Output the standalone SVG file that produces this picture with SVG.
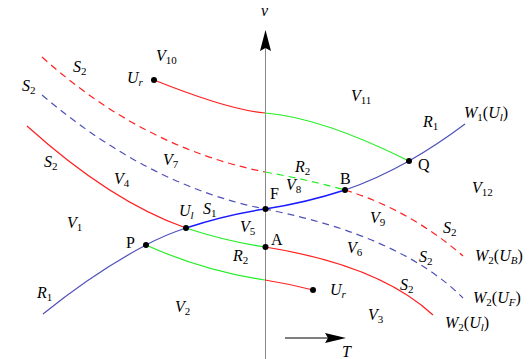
<svg xmlns="http://www.w3.org/2000/svg" width="531" height="359" viewBox="0 0 531 359">
<style>
text{font-family:"Liberation Serif","Times New Roman",serif;font-size:16px;fill:#000}
.i{font-style:italic}
.s{font-size:11px;font-style:normal}
.si{font-size:11px;font-style:italic}
.c{fill:none;stroke-width:1.2}
.r{stroke:#ff2020}
.g{stroke:#22ee22}
.b{stroke:#5050bb}
.bb{stroke:#1a1aff;stroke-width:1.6}
.d{stroke-dasharray:7,5}
.pt{fill:#000}
</style>
<rect width="531" height="359" fill="#fff"/>
<g id="axes">
<line x1="265.5" y1="359" x2="265.5" y2="45" stroke="#888" stroke-width="1"/>
<polygon points="265.5,30 271,51 265.5,48 260,51" fill="#000"/>
<text class="i" x="261" y="16" font-size="14">v</text>
<line x1="285" y1="338" x2="330" y2="338" stroke="#000" stroke-width="1.2"/>
<polygon points="346,338 325,333 328,338 325,343" fill="#000"/>
<text class="i" x="342" y="357">T</text>
</g>
<g id="connectors">
<path class="c r" d="M154,80 Q229,110 265,113"/>
<path class="c g" d="M265,113 Q322,117.6 409,161"/>
<path class="c b" d="M43,314 Q95,272 146,245 Q165.4,234.7 186,228"/>
<path class="c bb" d="M186,228 Q225,215 265,209 Q305,203 345,190"/>
<path class="c b" d="M345,190 Q375,180 409,161 Q437,145 465,124"/>
<path class="c r d" d="M42,57 Q142.6,147.5 265,172"/>
<path class="c g d" d="M265,172 Q305,179 345,190"/>
<path class="c r d" d="M345,190 Q410,210 463,256"/>
<path class="c b d" d="M42,95 Q148.8,185.8 265,209 Q401,236 463,298"/>
<path class="c r" d="M27,126 Q111,201.8 186,228"/>
<path class="c g" d="M186,228 Q225,241 265,247"/>
<path class="c r" d="M265,247 Q379,265 433,315"/>
<path class="c g" d="M146,245 Q203,270.8 265,280"/>
<path class="c r" d="M265,280 Q290,284 313,290"/>
</g>
<g id="points">
<g id="Ur-top"><circle class="pt" cx="154" cy="80" r="3"/><text class="i" x="127" y="83">U<tspan class="si" dy="3">r</tspan></text></g>
<g id="Q"><circle class="pt" cx="409" cy="161" r="3"/><text x="418" y="170">Q</text></g>
<g id="B"><circle class="pt" cx="345" cy="190" r="3"/><text x="340" y="184">B</text></g>
<g id="F"><circle class="pt" cx="265.5" cy="209" r="3"/><text x="270" y="199">F</text></g>
<g id="Ul"><circle class="pt" cx="186" cy="228" r="3"/><text class="i" x="179" y="216">U<tspan class="si" dy="3">l</tspan></text></g>
<g id="P"><circle class="pt" cx="146" cy="245" r="3"/><text x="126" y="248">P</text></g>
<g id="A"><circle class="pt" cx="265.5" cy="247" r="3"/><text x="271" y="245">A</text></g>
<g id="Ur-bottom"><circle class="pt" cx="313" cy="290" r="3"/><text class="i" x="330" y="295">U<tspan class="si" dy="3">r</tspan></text></g>
</g>
<g id="labels">
<text class="i" x="156" y="61">V<tspan class="s" dy="3">10</tspan></text>
<text class="i" x="351" y="101">V<tspan class="s" dy="3">11</tspan></text>
<text class="i" x="472" y="193">V<tspan class="s" dy="3">12</tspan></text>
<text class="i" x="163" y="165">V<tspan class="s" dy="3">7</tspan></text>
<text class="i" x="114" y="184">V<tspan class="s" dy="3">4</tspan></text>
<text class="i" x="67" y="228">V<tspan class="s" dy="3">1</tspan></text>
<text class="i" x="240" y="232">V<tspan class="s" dy="3">5</tspan></text>
<text class="i" x="175" y="312">V<tspan class="s" dy="3">2</tspan></text>
<text class="i" x="286" y="190">V<tspan class="s" dy="3">8</tspan></text>
<text class="i" x="370" y="223">V<tspan class="s" dy="3">9</tspan></text>
<text class="i" x="347" y="253">V<tspan class="s" dy="3">6</tspan></text>
<text class="i" x="368" y="320">V<tspan class="s" dy="3">3</tspan></text>
<text class="i" x="73" y="72">S<tspan class="s" dy="3">2</tspan></text>
<text class="i" x="22" y="91">S<tspan class="s" dy="3">2</tspan></text>
<text class="i" x="44" y="167">S<tspan class="s" dy="3">2</tspan></text>
<text class="i" x="203" y="214">S<tspan class="s" dy="3">1</tspan></text>
<text class="i" x="443" y="233">S<tspan class="s" dy="3">2</tspan></text>
<text class="i" x="419" y="262">S<tspan class="s" dy="3">2</tspan></text>
<text class="i" x="400" y="290">S<tspan class="s" dy="3">2</tspan></text>
<text class="i" x="233" y="261">R<tspan class="s" dy="3">2</tspan></text>
<text class="i" x="295" y="172">R<tspan class="s" dy="3">2</tspan></text>
<text class="i" x="37" y="298">R<tspan class="s" dy="3">1</tspan></text>
<text class="i" x="423" y="127">R<tspan class="s" dy="3">1</tspan></text>
<text x="464" y="118"><tspan class="i">W</tspan><tspan class="s" dy="3">1</tspan><tspan dy="-3">(</tspan><tspan class="i">U</tspan><tspan class="si" dy="3">l</tspan><tspan dy="-3">)</tspan></text>
<text x="475" y="261"><tspan class="i">W</tspan><tspan class="s" dy="3">2</tspan><tspan dy="-3">(</tspan><tspan class="i">U</tspan><tspan class="si" dy="3">B</tspan><tspan dy="-3">)</tspan></text>
<text x="473" y="303"><tspan class="i">W</tspan><tspan class="s" dy="3">2</tspan><tspan dy="-3">(</tspan><tspan class="i">U</tspan><tspan class="si" dy="3">F</tspan><tspan dy="-3">)</tspan></text>
<text x="445" y="328"><tspan class="i">W</tspan><tspan class="s" dy="3">2</tspan><tspan dy="-3">(</tspan><tspan class="i">U</tspan><tspan class="si" dy="3">l</tspan><tspan dy="-3">)</tspan></text>
</g>
</svg>
